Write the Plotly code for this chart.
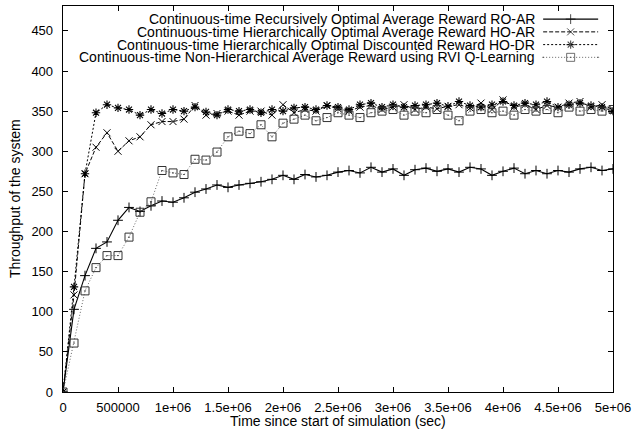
import plotly.graph_objects as go

# ---------------- data ----------------
# time axis: 0 .. 5e6 step 1e5
time_sec = [i * 100000 for i in range(51)]

ro_ar = [0, 103, 145, 179, 187, 214, 230, 225, 232, 238, 236.5, 242, 249, 253, 258, 255, 258, 260,
         262, 265, 270, 265, 271, 268, 270, 274, 276, 273, 280, 274, 278, 270, 277, 279, 275, 278,
         274, 280, 278, 270, 275, 279, 272, 276, 272, 276, 274, 278, 280, 276, 278]

ho_ar = [0, 121, 272, 305, 323, 300, 313, 318, 333, 337, 337, 340, 357, 345, 347, 350, 345, 350,
         350, 345, 358, 348, 352, 350, 357, 353, 350, 355, 357, 352, 355, 358, 352, 355, 353, 356,
         358, 354, 360, 352, 364, 355, 358, 352, 357, 355, 360, 362, 355, 358, 352]

ho_dr = [0, 131, 272, 348, 358, 354, 352, 345, 352, 347, 352, 350, 355, 349, 345, 352, 350, 352,
         348, 352, 350, 354, 355, 352, 357, 355, 352, 358, 360, 355, 358, 355, 357, 358, 360, 356,
         362, 357, 355, 358, 362, 357, 360, 358, 362, 355, 358, 360, 357, 355, 350]

rvi_q = [0, 61, 126, 155, 170, 170, 193, 224, 237, 276, 273, 271, 290, 289, 299, 318, 325, 322,
         333, 318, 335, 340, 345, 338, 342, 348, 345, 342, 348, 350, 352, 345, 350, 348, 352, 345,
         338, 350, 352, 348, 350, 345, 352, 350, 352, 348, 355, 350, 352, 350, 352]

names = [
    "Continuous-time Recursively Optimal Average Reward RO-AR",
    "Continuous-time Hierarchically Optimal Average Reward HO-AR",
    "Continuous-time Hierarchically Optimal Discounted Reward HO-DR",
    "Continuous-time Non-Hierarchical Average Reward using RVI Q-Learning",
]

x_tickvals = [0, 500000, 1000000, 1500000, 2000000, 2500000, 3000000, 3500000, 4000000, 4500000, 5000000]
x_ticktext = ["0", "500000", "1e+06", "1.5e+06", "2e+06", "2.5e+06", "3e+06", "3.5e+06", "4e+06", "4.5e+06", "5e+06"]
y_tickvals = [0, 50, 100, 150, 200, 250, 300, 350, 400, 450]

# ---------------- styles ----------------
FONT = "Liberation Sans, Arial, Helvetica, sans-serif"
FS = 14
TICK_FS = 13
styles = [
    dict(line=dict(color="black", width=1.1),
         marker=dict(symbol="cross-thin", size=7, color="black", line=dict(color="black", width=1))),
    dict(line=dict(color="black", width=1, dash="4px,2px"),
         marker=dict(symbol="x-thin", size=7, color="black", line=dict(color="black", width=1))),
    dict(line=dict(color="black", width=1, dash="2px,2px"),
         marker=dict(symbol="asterisk", size=7, color="black", line=dict(color="black", width=1.1))),
    dict(line=dict(color="#666666", width=1, dash="1px,2px"),
         marker=dict(symbol="square-open-dot", size=8, color="#333333", line=dict(color="#333333", width=1))),
]
series = [ro_ar, ho_ar, ho_dr, rvi_q]

fig = go.Figure()
for nm, ys, st in zip(names, series, styles):
    fig.add_trace(go.Scatter(x=time_sec, y=ys, name=nm, mode="lines+markers",
                             line=st["line"], marker=st["marker"], showlegend=False))

# ---------------- gnuplot-style key (text left, sample right) ----------------
key_text_x = 0.862
key_x0, key_xm, key_x1 = 0.873, 0.923, 0.973
key_rows = [0.966, 0.933, 0.900, 0.867]
for nm, st, ky in zip(names, styles, key_rows):
    mk = dict(st["marker"])
    mk["size"] = [0, st["marker"]["size"], 0]
    fig.add_trace(go.Scatter(x=[key_x0, key_xm, key_x1], y=[ky, ky, ky], mode="lines+markers",
                             line=st["line"], marker=mk, xaxis="x2", yaxis="y2",
                             showlegend=False, hoverinfo="skip"))
    fig.add_annotation(x=key_text_x, y=ky, xref="x2", yref="y2", text=nm, showarrow=False,
                       xanchor="right", yanchor="middle",
                       font=dict(family=FONT, size=FS, color="black"))

axis_common = dict(showline=True, linecolor="black", linewidth=1.3, mirror="ticks",
                   ticks="inside", ticklen=5, tickcolor="black", tickwidth=1,
                   showgrid=False, zeroline=False, automargin=False,
                   tickfont=dict(family=FONT, size=TICK_FS, color="black"))

fig.update_xaxes(range=[0, 5000000], tickvals=x_tickvals, ticktext=x_ticktext,
                 ticklabelstandoff=3, **axis_common)
fig.update_yaxes(range=[0, 481], tickvals=y_tickvals, ticklabelstandoff=6, **axis_common)

fig.update_layout(
    xaxis2=dict(range=[0, 1], overlaying="x", visible=False),
    yaxis2=dict(range=[0, 1], overlaying="y", visible=False),
)

# axis titles
fig.add_annotation(x=0.5, y=0, xref="paper", yref="paper", yshift=-29, text="Time since start of simulation (sec)",
                   showarrow=False, xanchor="center", yanchor="middle",
                   font=dict(family=FONT, size=FS, color="black"))
fig.add_annotation(x=0, y=0.5, xref="paper", yref="paper", xshift=-48, text="Throughput of the system",
                   showarrow=False, xanchor="center", yanchor="middle", textangle=-90,
                   font=dict(family=FONT, size=FS, color="black"))

fig.update_layout(
    width=634, height=435,
    margin=dict(l=63, r=21, t=6, b=43),
    plot_bgcolor="white", paper_bgcolor="white",
    font=dict(family=FONT, size=FS, color="black"),
    showlegend=False,
)

# remove the default page margin so the figure fills the window exactly
fig.write_html("out.html", config={"displayModeBar": False, "staticPlot": True},
               post_script="document.body.style.margin='0';document.body.style.overflow='hidden';")
